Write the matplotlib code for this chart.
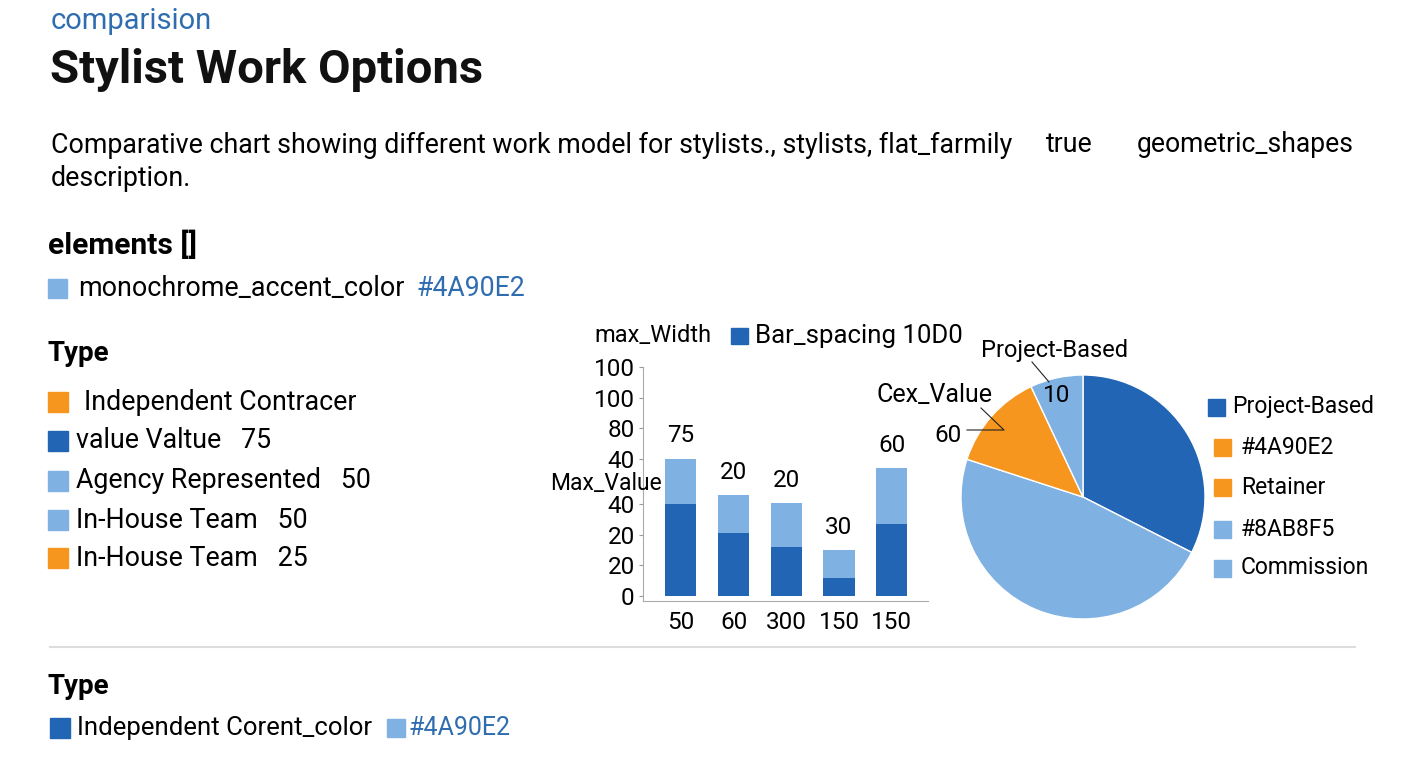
import matplotlib
matplotlib.use('Agg')
import matplotlib.pyplot as plt
from matplotlib.patches import Rectangle

W, H = 1408, 768
DARK = '#2365B5'
LIGHT = '#80B1E3'
ORANGE = '#F6961E'
ACCENT_TEXT = '#2F6DB0'

# stacked bar chart
bar_labels = ['50', '60', '300', '150', '150']
bar_dark = [60, 41, 32, 12, 47]
bar_light = [30, 25, 29, 18, 37]
bar_top_labels = ['75', '20', '20', '30', '60']
ytick_values = [0, 20, 40, 60, 90, 110, 130, 150]
ytick_labels = ['0', '20', '20', '40', '40', '80', '100', '100']

# pie chart
pie_values = [32.5, 47.5, 13, 7]
pie_colors = [DARK, LIGHT, ORANGE, LIGHT]
pie_legend_labels = ['Project-Based', '#4A90E2', 'Retainer', '#8AB8F5', 'Commission']
pie_legend_colors = [DARK, ORANGE, ORANGE, LIGHT, LIGHT]

# left legend block
type_labels = ['Independent Contracer', 'value Valtue   75', 'Agency Represented   50',
               'In-House Team   50', 'In-House Team   25']
type_colors = [ORANGE, DARK, LIGHT, LIGHT, ORANGE]

plt.rcParams['font.family'] = ['Roboto', 'DejaVu Sans']

fig = plt.figure(figsize=(W / 100, H / 100), dpi=100)
fig.patch.set_facecolor('white')


def fx(x):
    return x / W


def fy(y):
    return 1 - y / H


def swatch(x, y, size, color):
    # y is the vertical centre in pixels
    fig.patches.append(Rectangle((fx(x), fy(y + size / 2)), size / W, size / H,
                                 transform=fig.transFigure, color=color))


def label(x, y, s, size, **kw):
    fig.text(fx(x), fy(y), s, fontsize=size, va='center', ha=kw.pop('ha', 'left'), **kw)


# header
label(51, 21, 'comparision', 21, color=ACCENT_TEXT)
label(50, 70, 'Stylist Work Options', 34, fontweight='bold', color='#111111')
label(51, 145, 'Comparative chart showing different work model for stylists., stylists, flat_farmily', 19.3)
label(1046, 145, 'true', 19.3)
label(1137, 145, 'geometric_shapes', 19.1)
label(51, 178, 'description.', 19.3)

label(48, 245, 'elements []', 21.5, fontweight='bold')
swatch(48, 288, 19, LIGHT)
label(78, 288, 'monochrome_accent_color', 19.4)
label(416, 288, '#4A90E2', 19.2, color=ACCENT_TEXT)

label(47, 353, 'Type', 20, fontweight='bold')
row_y = [402, 441, 481, 520, 558]
for i, (txt, col) in enumerate(zip(type_labels, type_colors)):
    swatch(48, row_y[i], 20, col)
    label(84 if i == 0 else 76, row_y[i], txt, 19.3)

# separator and bottom block
fig.add_artist(plt.Line2D([fx(50), fx(1355)], [fy(647), fy(647)], color='#DDDDDD', lw=1.5,
                          transform=fig.transFigure))
label(48, 686, 'Type', 20, fontweight='bold')
swatch(50, 728, 20, DARK)
label(77, 728, 'Independent Corent_color', 18.5)
swatch(387, 728, 18, LIGHT)
label(409, 728, '#4A90E2', 18, color=ACCENT_TEXT)

# bar chart
ax = fig.add_axes([fx(643), fy(601), fx(928) - fx(643), fy(367) - fy(601)])
x = list(range(len(bar_labels)))
ax.bar(x, bar_dark, width=0.59, color=DARK)
ax.bar(x, bar_light, width=0.59, bottom=bar_dark, color=LIGHT)
for i in x:
    ax.annotate(bar_top_labels[i], (i, bar_dark[i] + bar_light[i]), xytext=(0, 8),
                textcoords='offset points', ha='center', va='bottom', fontsize=17.5)
ax.set_xlim(-0.72, 4.69)
ax.set_ylim(-3.3, 150)
ax.set_xticks(x)
ax.set_xticklabels(bar_labels, fontsize=17.5)
ax.set_yticks(ytick_values)
ax.set_yticklabels(ytick_labels, fontsize=17.5)
ax.tick_params(axis='x', length=0, pad=7)
ax.tick_params(axis='y', length=3, pad=3, color='#999999')
for side in ('top', 'right'):
    ax.spines[side].set_visible(False)
for side in ('left', 'bottom'):
    ax.spines[side].set_color('#AAAAAA')
ax.patch.set_alpha(0)

label(594, 336, 'max_Width', 17)
swatch(731, 336, 17, DARK)
label(755, 336, 'Bar_spacing 10D0', 18.5)
label(550, 484, 'Max_Value', 16.5)

# pie chart
r = 122
pax = fig.add_axes([fx(1083 - r), fy(497 + r), 2 * r / W, 2 * r / H])
wedges, _ = pax.pie(pie_values, colors=pie_colors, startangle=90, counterclock=False,
                    radius=1, wedgeprops=dict(edgecolor='white', linewidth=1))
pax.set_xlim(-1, 1)
pax.set_ylim(-1, 1)
pax.set_aspect('equal')


def pp(px_, py_):
    # pixel -> pie data coordinates
    return ((px_ - 1083) / r, (497 - py_) / r)


pax.text(*pp(1055, 350), 'Project-Based', ha='center', va='center', fontsize=17)
pax.plot(*zip(pp(1032, 362), pp(1049, 382)), color='#222222', lw=0.8, clip_on=False)
pax.text(*pp(1057, 395), '10', ha='center', va='center', fontsize=17.5)
pax.text(*pp(934, 395), 'Cex_Value', ha='center', va='center', fontsize=18)
pax.plot(*zip(pp(981, 408), pp(1004, 430), pp(967, 430)), color='#222222', lw=0.8, clip_on=False)
pax.text(*pp(948, 435), '60', ha='center', va='center', fontsize=17.5)

leg_y = [407, 447, 487, 529, 568]
for i, (txt, col) in enumerate(zip(pie_legend_labels, pie_legend_colors)):
    swatch(1208 if i == 0 else 1214, leg_y[i], 17, col)
    label(1232 if i == 0 else 1241, leg_y[i], txt, 16.5)

fig.savefig('out.png', dpi=100)
